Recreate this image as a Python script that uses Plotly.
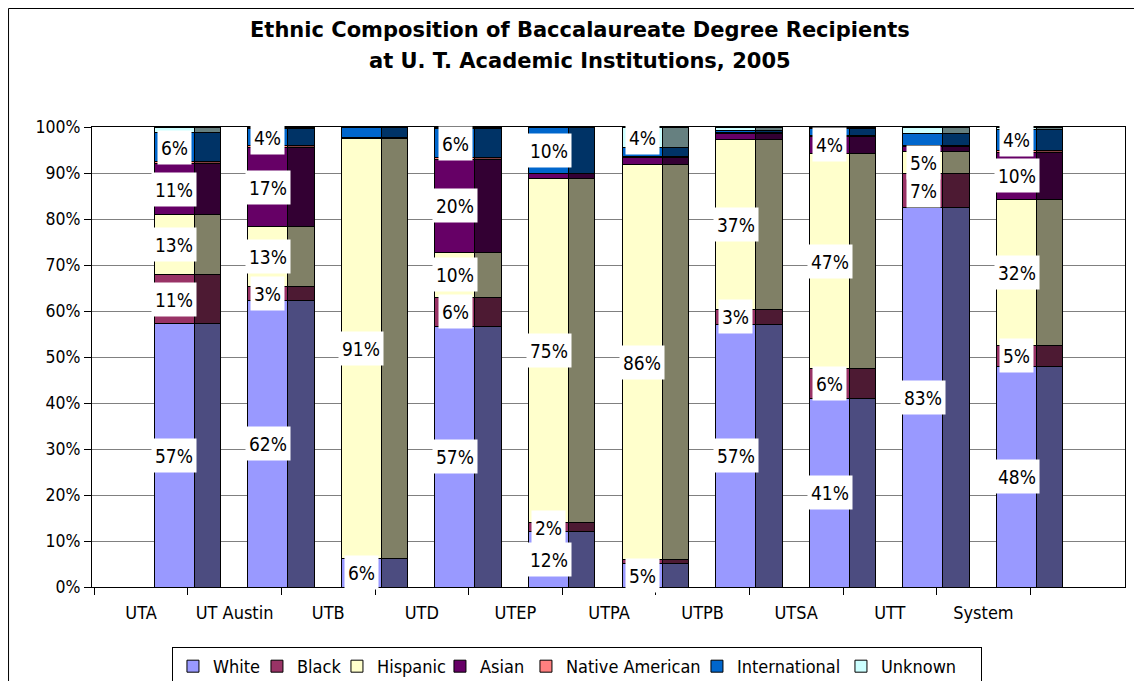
import plotly.graph_objects as go

FONT = "DejaVu Sans Condensed, DejaVu Sans, sans-serif"
TITLE_FONT = "DejaVu Sans, sans-serif"

institutions = ["UTA", "UT Austin", "UTB", "UTD", "UTEP", "UTPA", "UTPB", "UTSA", "UTT", "System"]

# percent of baccalaureate recipients
white = [57.2, 62.2, 6.1, 56.6, 12.0, 5.2, 57.1, 41.0, 82.6, 48.0]
black = [10.8, 3.1, 0.2, 6.4, 2.0, 0.7, 3.3, 6.4, 7.3, 4.6]
hispanic = [12.9, 13.0, 91.1, 9.8, 74.8, 86.0, 36.9, 46.9, 4.7, 31.7]
asian = [11.2, 17.3, 0.4, 20.2, 1.0, 1.4, 1.2, 3.6, 1.2, 10.2]
native = [0.4, 0.3, 0.0, 0.4, 0.2, 0.3, 0.3, 0.3, 0.2, 0.5]
international = [6.3, 3.7, 2.2, 6.2, 9.9, 2.0, 0.5, 1.5, 2.6, 4.4]
unknown = [1.2, 0.4, 0.0, 0.4, 0.1, 4.4, 0.7, 0.3, 1.4, 0.6]

# which segments carry a data label
white_lbl = [True] * 10
black_lbl = [True, True, False, True, True, False, True, True, True, True]
hispanic_lbl = [True] * 10
asian_lbl = [True, True, False, True, False, False, False, True, False, True]
native_lbl = [False] * 10
international_lbl = [True, True, False, True, True, False, False, False, False, True]
unknown_lbl = [False, False, False, False, False, True, False, False, False, False]

series = [
    ("White", white, white_lbl, "#9999FF", "#4C4C80"),
    ("Black", black, black_lbl, "#993366", "#4D1A33"),
    ("Hispanic", hispanic, hispanic_lbl, "#FFFFCC", "#808066"),
    ("Asian", asian, asian_lbl, "#660066", "#330033"),
    ("Native American", native, native_lbl, "#FF8080", "#804040"),
    ("International", international, international_lbl, "#0066CC", "#003366"),
    ("Unknown", unknown, unknown_lbl, "#CCFFFF", "#668080"),
]
# legend entry widths (px), to get Excel-like tight spacing
legend_w = [39, 35, 58, 41, 126, 99, 95]

# x in "category" units, front face + darker side face of each 3D column
n = len(institutions)
front_x = [i + 0.879 for i in range(n)]
side_x = [i + 1.232 for i in range(n)]
label_x = [i + 0.5235 for i in range(n)]
tick_x = [k + 0.0235 for k in range(n + 1)]

fig = go.Figure()
for (name, vals, _, c_front, c_side), lw in zip(series, legend_w):
    fig.add_trace(go.Bar(
        x=front_x, y=vals, name=name, width=0.432, legendwidth=lw,
        marker=dict(color=c_front, line=dict(color="black", width=1)),
        hovertemplate="%{y:.1f}%<extra>" + name + "</extra>",
    ))
for name, vals, _, c_front, c_side in series:
    fig.add_trace(go.Bar(
        x=side_x, y=vals, name=name, width=0.283, showlegend=False,
        marker=dict(color=c_side, line=dict(color="black", width=1)),
        hoverinfo="skip",
    ))

# data labels in white boxes at segment midpoints
base = [0.0] * n
for name, vals, show, _, _ in series:
    for i in range(n):
        mid = base[i] + vals[i] / 2
        if show[i]:
            fig.add_annotation(
                x=front_x[i], y=mid, text=f"{round(vals[i])}%", showarrow=False,
                bgcolor="white", borderpad=3, height=27,
                font=dict(family=FONT, size=19, color="black"),
            )
        base[i] += vals[i]

# two-line bold title
title_lines = ["Ethnic Composition of Baccalaureate Degree Recipients",
               "at U. T. Academic Institutions, 2005"]
for line, yy in zip(title_lines, [1.2109, 1.1435]):
    fig.add_annotation(
        xref="paper", yref="paper", x=0.4724, y=yy, text=f"<b>{line}</b>",
        showarrow=False, xanchor="center", yanchor="middle",
        font=dict(family=TITLE_FONT, size=21, color="black"),
    )

# outer chart border (cropped at right / bottom like the original)
fig.add_shape(type="rect", xref="paper", yref="paper",
              x0=-0.0808, x1=1.05, y0=-0.25, y1=1.2576,
              line=dict(color="black", width=1), fillcolor="rgba(0,0,0,0)", layer="below")

fig.update_layout(
    width=1134, height=673,
    barmode="stack",
    plot_bgcolor="white", paper_bgcolor="white",
    margin=dict(l=84, r=17, t=119, b=94, autoexpand=False),
    font=dict(family=FONT, size=17, color="black"),
    xaxis=dict(
        range=[0, 11.036], showgrid=False, zeroline=False,
        tickvals=label_x, ticktext=institutions, ticks="",
        ticklabelstandoff=9,
        showline=True, linecolor="black", linewidth=1, mirror=True,
        minor=dict(tickvals=tick_x, ticks="outside", ticklen=7, tickcolor="black", showgrid=False),
        tickfont=dict(family=FONT, size=18),
    ),
    yaxis=dict(
        range=[0, 100], dtick=10, ticksuffix="%",
        showgrid=True, gridcolor="#808080", gridwidth=1, zeroline=False,
        ticks="outside", ticklen=7, tickcolor="black",
        showline=True, linecolor="black", linewidth=1, mirror=True,
        tickfont=dict(family=FONT, size=17.5),
    ),
    legend=dict(
        orientation="h", x=0.0774, xanchor="left", y=-0.1304, yanchor="top",
        bordercolor="black", borderwidth=1, traceorder="normal",
        font=dict(family=FONT, size=18),
    ),
    showlegend=True,
)

fig.write_html("out.html")
